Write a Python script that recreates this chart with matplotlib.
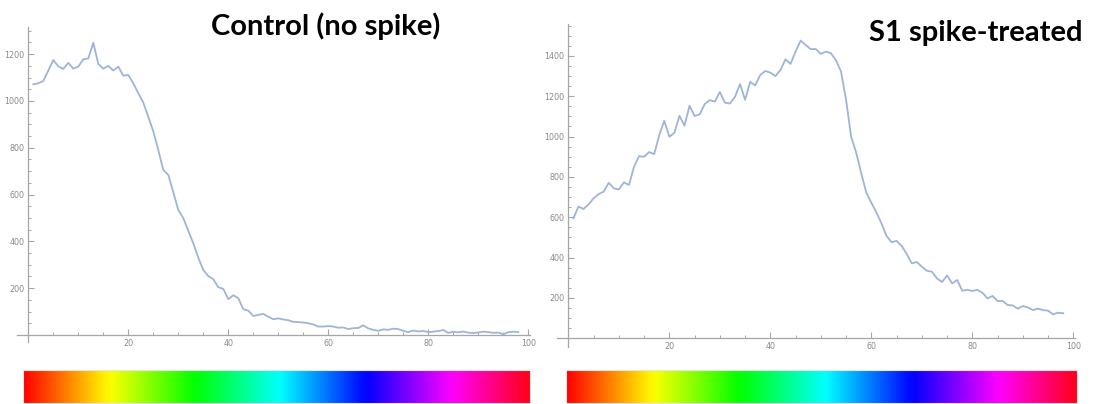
import numpy as np
import matplotlib
matplotlib.use("Agg")
import matplotlib.pyplot as plt
from matplotlib.ticker import MultipleLocator

# ---- data ----
control_x = list(range(1, 99))
control_y = [1071, 1076, 1085, 1130, 1175, 1148, 1137, 1163, 1138, 1147,
             1178, 1182, 1249, 1158, 1138, 1150, 1130, 1147, 1108, 1111,
             1075, 1033, 993, 932, 870, 790, 705, 684, 610, 534,
             499, 445, 392, 330, 278, 252, 238, 204, 197, 153,
             170, 157, 110, 104, 81, 86, 90, 78, 67, 71,
             66, 63, 56, 55, 53, 50, 45, 36, 36, 38,
             36, 31, 32, 25, 29, 30, 41, 28, 22, 18,
             24, 22, 27, 25, 18, 12, 19, 15, 17, 12,
             14, 17, 21, 9, 14, 11, 15, 10, 8, 11,
             14, 12, 9, 10, 3, 12, 14, 12]

spike_x = list(range(1, 99))
spike_y = [595, 653, 641, 664, 694, 715, 727, 771, 743, 738,
           773, 760, 850, 903, 900, 923, 913, 1007, 1078, 999,
           1019, 1103, 1054, 1153, 1102, 1110, 1161, 1181, 1173, 1221,
           1168, 1164, 1197, 1260, 1182, 1271, 1253, 1305, 1325, 1317,
           1300, 1330, 1383, 1360, 1421, 1476, 1454, 1433, 1434, 1410,
           1421, 1413, 1378, 1322, 1181, 999, 920, 818, 722, 672,
           624, 570, 508, 476, 483, 458, 418, 372, 378, 355,
           335, 330, 297, 279, 312, 272, 289, 236, 240, 235,
           240, 226, 198, 210, 185, 185, 165, 163, 147, 160,
           153, 140, 147, 140, 137, 119, 127, 124]

x_major_ticks = [20, 40, 60, 80, 100]
control_y_ticks = [200, 400, 600, 800, 1000, 1200]
spike_y_ticks = [200, 400, 600, 800, 1000, 1200, 1400]

titles = ["Control (no spike)", "S1 spike-treated"]

LINE = "#9fb4d7"
AXC = "#a6a6a6"
LABC = "#8a8a8a"

fig = plt.figure(figsize=(10.94, 4.04), dpi=100)


def style_axes(ax, yticks, xlim, ylim):
    ax.set_xlim(*xlim)
    ax.set_ylim(*ylim)
    for s in ("top", "right"):
        ax.spines[s].set_visible(False)
    ax.spines["left"].set_position(("data", 0))
    ax.spines["bottom"].set_position(("data", 0))
    for s in ("left", "bottom"):
        ax.spines[s].set_color(AXC)
        ax.spines[s].set_linewidth(0.9)
    ax.set_xticks(x_major_ticks)
    ax.set_yticks(yticks)
    ax.xaxis.set_minor_locator(MultipleLocator(5))
    ax.yaxis.set_minor_locator(MultipleLocator(50))
    ax.tick_params(which="major", direction="in", length=4, width=0.8,
                   color=AXC, labelsize=5.8, labelcolor=LABC, pad=3)
    ax.tick_params(which="minor", direction="in", length=2.2, width=0.7,
                   color=AXC)
    ax.patch.set_visible(False)


ax1 = fig.add_axes([0.01536, 0.1535, 0.4689, 0.7802])
ax1.plot(control_x, control_y, color=LINE, lw=1.3)
style_axes(ax1, control_y_ticks, (-2.3, 100.3), (-30, 1317))

ax2 = fig.add_axes([0.5089, 0.1416, 0.4736, 0.7990])
ax2.plot(spike_x, spike_y, color=LINE, lw=1.3)
style_axes(ax2, spike_y_ticks, (-2.3, 100.3), (-42, 1558))

# hue colour bars
grad = np.linspace(0, 1, 512).reshape(1, -1)
for rect in ([0.0210, 0.0025, 0.4634, 0.0817], [0.5174, 0.0025, 0.4671, 0.0817]):
    cax = fig.add_axes(rect)
    cax.imshow(grad, aspect="auto", cmap="hsv", interpolation="bilinear")
    cax.set_xticks([])
    cax.set_yticks([])
    for s in cax.spines.values():
        s.set_color("#e6e6e6")
        s.set_linewidth(0.8)

fig.text(0.298, 0.913, titles[0], ha="center", va="baseline",
         fontsize=21, fontweight="bold", family=["Lato", "DejaVu Sans"])
fig.text(0.8917, 0.8985, titles[1], ha="center", va="baseline",
         fontsize=21, fontweight="bold", family=["Lato", "DejaVu Sans"])

fig.savefig("out.png", dpi=100)
